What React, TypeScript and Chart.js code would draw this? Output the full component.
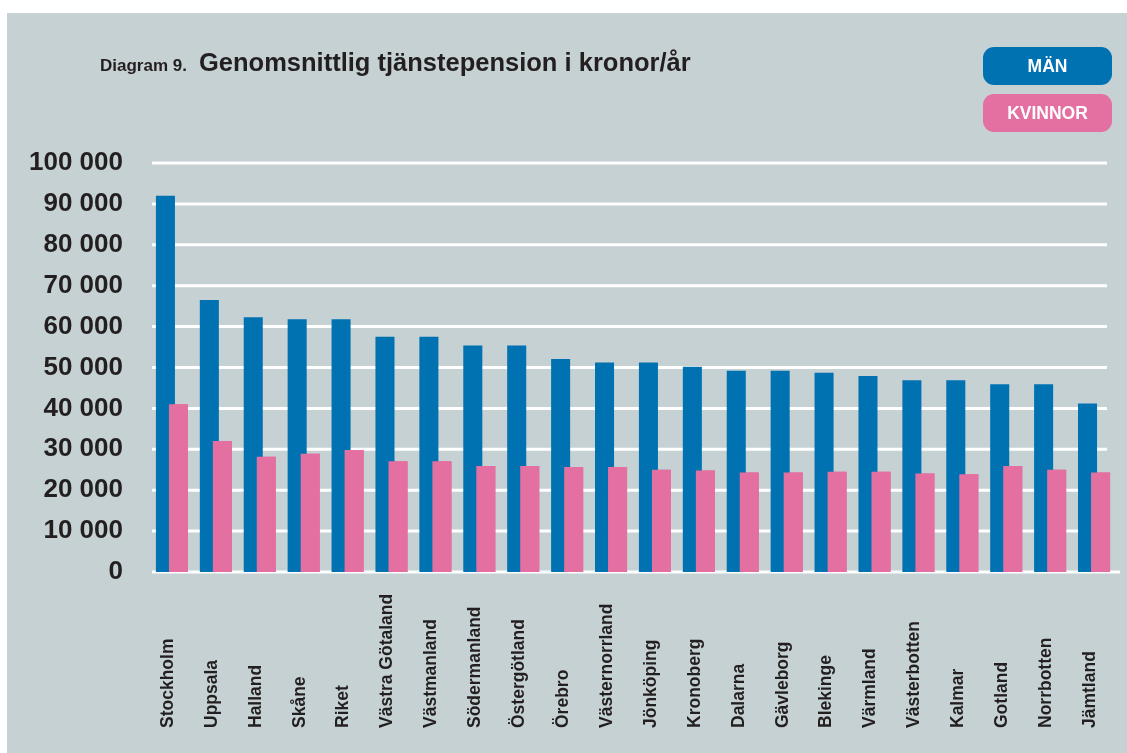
import React, { useEffect, useRef } from 'react';
import { Chart, registerables } from 'chart.js';

Chart.register(...registerables);

const categories = [
  'Stockholm', 'Uppsala', 'Halland', 'Skåne', 'Riket', 'Västra Götaland', 'Västmanland',
  'Södermanland', 'Östergötland', 'Örebro', 'Västernorrland', 'Jönköping', 'Kronoberg',
  'Dalarna', 'Gävleborg', 'Blekinge', 'Värmland', 'Västerbotten', 'Kalmar', 'Gotland',
  'Norrbotten', 'Jämtland',
];
const menValues = [
  92000, 66500, 62300, 61800, 61800, 57500, 57500, 55400, 55400, 52100, 51200,
  51200, 50200, 49200, 49200, 48700, 47900, 46900, 46900, 45900, 45900, 41200,
];
const womenValues = [
  41000, 32000, 28200, 28900, 29800, 27100, 27100, 25900, 25900, 25700, 25700,
  25000, 24800, 24300, 24300, 24500, 24500, 24100, 23900, 25900, 25000, 24300,
];
const seriesLabels = ['MÄN', 'KVINNOR'];
const titlePrefix = 'Diagram 9.';
const titleMain = 'Genomsnittlig tjänstepension i kronor/år';
const yMin = 0;
const yMax = 100000;
const yStep = 10000;

const FONT = '"Liberation Sans", Arial, Helvetica, sans-serif';
const BLUE = '#0072b2';
const PINK = '#e46fa1';
const TEXT = '#231f20';
const PANEL = '#c5d1d3';

const fmt = (v: number) => String(v).replace(/\B(?=(\d{3})+(?!\d))/g, ' ');

const customDraw = {
  id: 'customDraw',
  beforeDatasetsDraw(chart: any) {
    const { ctx, scales } = chart;
    const ys = scales.y;
    ctx.save();
    ctx.strokeStyle = '#ffffff';
    ctx.lineWidth = 3;
    ys.ticks.forEach((t: any) => {
      const y = ys.getPixelForValue(t.value);
      ctx.beginPath();
      ctx.moveTo(152, y);
      ctx.lineTo(t.value === 0 ? 1120 : 1107, y);
      ctx.stroke();
    });
    ctx.restore();
  },
  afterDatasetsDraw(chart: any) {
    const meta = chart.getDatasetMeta(1);
    meta.data.forEach((el: any) => el.draw(chart.ctx));
  },
  afterDraw(chart: any) {
    const { ctx, scales } = chart;
    ctx.save();
    // title
    ctx.fillStyle = TEXT;
    ctx.textBaseline = 'alphabetic';
    ctx.textAlign = 'left';
    ctx.font = `bold 17px ${FONT}`;
    ctx.fillText(titlePrefix, 100, 71);
    ctx.font = `bold 25.5px ${FONT}`;
    ctx.fillText(titleMain, 199, 71);

    // legend
    const ds = chart.data.datasets;
    ds.forEach((d: any, i: number) => {
      const x = 983;
      const y = 47 + i * 47;
      const w = 129;
      const h = 38;
      ctx.fillStyle = d.backgroundColor;
      ctx.beginPath();
      ctx.roundRect(x, y, w, h, 11);
      ctx.fill();
      ctx.fillStyle = '#ffffff';
      ctx.font = `bold 17.5px ${FONT}`;
      ctx.textAlign = 'center';
      ctx.textBaseline = 'middle';
      ctx.fillText(d.label, x + w / 2, y + h / 2 + 1);
    });

    // x labels (rotated, bottom aligned)
    const xs = scales.x;
    ctx.fillStyle = TEXT;
    ctx.font = `bold 17.5px ${FONT}`;
    ctx.textAlign = 'left';
    ctx.textBaseline = 'middle';
    categories.forEach((c, i) => {
      const x = xs.getPixelForValue(i) - 4;
      ctx.save();
      ctx.translate(x, 728);
      ctx.rotate(-Math.PI / 2);
      ctx.fillText(c, 0, 0);
      ctx.restore();
    });
    ctx.restore();
  },
};

export default function App() {
  const ref = useRef<HTMLCanvasElement | null>(null);

  useEffect(() => {
    if (!ref.current) return;
    const chart = new Chart(ref.current, {
      type: 'bar',
      data: {
        labels: categories,
        datasets: [
          {
            label: seriesLabels[0],
            data: menValues,
            backgroundColor: BLUE,
            borderWidth: 0,
            categoryPercentage: 0.594,
            barPercentage: 1.46,
          },
          {
            label: seriesLabels[1],
            data: womenValues,
            backgroundColor: PINK,
            borderWidth: 0,
            categoryPercentage: 0.594,
            barPercentage: 1.46,
          },
        ],
      },
      options: {
        responsive: false,
        animation: false,
        devicePixelRatio: 1,
        layout: { padding: { top: 163, right: 11, bottom: 0, left: 0 } },
        plugins: {
          legend: { display: false },
          title: { display: false },
          tooltip: { enabled: false },
        },
        scales: {
          x: {
            grid: { display: false, drawTicks: false },
            border: { display: false },
            ticks: { display: false },
            afterFit: (s: any) => {
              s.height = 181;
            },
          },
          y: {
            min: yMin,
            max: yMax,
            grid: { display: false, drawTicks: false },
            border: { display: false },
            ticks: {
              stepSize: yStep,
              padding: 27,
              color: TEXT,
              font: { family: FONT, size: 26, weight: 'bold' },
              callback: (v: any) => fmt(Number(v)),
            },
            afterFit: (s: any) => {
              s.width = 150;
            },
          },
        },
      },
      plugins: [customDraw],
    } as any);
    return () => chart.destroy();
  }, []);

  return (
    <div
      style={{
        position: 'absolute',
        left: 0,
        top: 0,
        width: 1127,
        height: 753,
        background: '#ffffff',
        overflow: 'hidden',
      }}
    >
      <div
        style={{
          position: 'absolute',
          left: 7,
          top: 13,
          width: 1120,
          height: 740,
          background: PANEL,
        }}
      />
      <canvas
        ref={ref}
        width={1127}
        height={753}
        style={{ position: 'absolute', left: 0, top: 0, width: 1127, height: 753 }}
      />
    </div>
  );
}
